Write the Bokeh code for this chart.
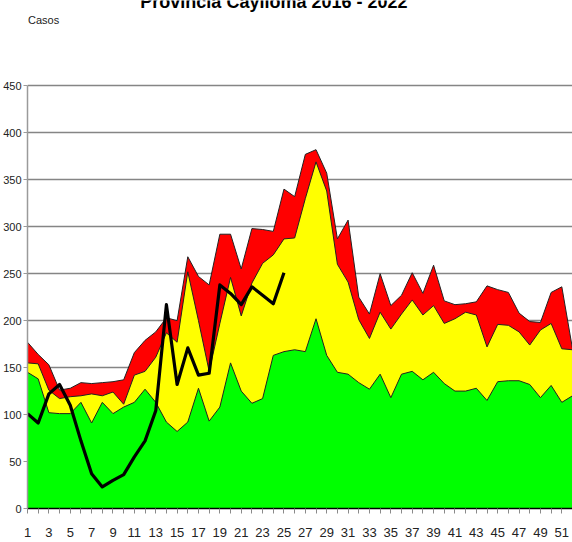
from bokeh.plotting import figure
from bokeh.models import FixedTicker, Label, Range1d
from bokeh.embed import file_html
from bokeh.resources import INLINE

# ---- data ----
weeks = list(range(1, 53))
red_max = [177, 164, 153, 126, 128, 134, 133, 134, 135, 137,
           166, 179, 188, 203, 200, 268, 247, 238, 292, 292,
           255, 298, 297, 295, 340, 332, 377, 382, 357, 287,
           307, 225, 207, 250, 216, 227, 251, 229, 259, 221,
           217, 218, 220, 237, 233, 230, 208, 199, 198, 230,
           236, 170]
yellow_mid = [155, 154, 126, 117, 119, 120, 122, 120, 124, 111,
              142, 146, 161, 187, 177, 252, 200, 146, 197, 246,
              205, 240, 261, 270, 287, 288, 330, 369, 338, 260,
              241, 201, 181, 209, 191, 207, 222, 206, 216, 197,
              202, 209, 206, 172, 196, 195, 188, 174, 190, 197,
              170, 169]
green_low = [145, 138, 102, 101, 101, 113, 91, 113, 101, 108,
             113, 127, 113, 92, 82, 92, 128, 93, 108, 155,
             125, 112, 117, 163, 167, 169, 167, 202, 163, 145,
             143, 134, 127, 143, 118, 143, 146, 137, 145, 133,
             125, 125, 128, 115, 135, 136, 136, 132, 118, 131,
             113, 120]
current_weeks = list(range(1, 26))
current_cases = [101, 91, 122, 132, 110, 72, 37, 23, 30, 36,
                 55, 72, 104, 217, 132, 171, 142, 144, 238, 229,
                 217, 236, 227, 218, 251]
y_ticks = [0, 50, 100, 150, 200, 250, 300, 350, 400, 450]
x_label_text = {w: (str(w) if w % 2 == 1 else "") for w in weeks}
title_text = "Provincia Caylloma 2016 - 2022"
y_title = "Casos"

FONT = "Liberation Sans"

# the frame reaches the top of the picture so that the (cut) title and the
# "Casos" caption can be drawn inside it; the y axis itself stops at 450
p = figure(width=572, height=542, output_backend="svg", toolbar_location=None,
           x_range=Range1d(1, 52), y_range=Range1d(0, 540.8),
           min_border_left=27, min_border_right=0,
           min_border_top=0, min_border_bottom=34,
           background_fill_color="white", border_fill_color="white")
p.outline_line_color = None

# areas (overlapping, drawn from largest to smallest)
for vals, col in ((red_max, "#FF0000"), (yellow_mid, "#FFFF00"), (green_low, "#00FF00")):
    p.varea(x=weeks, y1=[0] * len(weeks), y2=vals, fill_color=col)
    p.line(x=weeks, y=vals, line_color="#222222", line_width=1)

p.line(x=current_weeks, y=current_cases, line_color="black", line_width=3.2,
       line_join="round")

# grid
p.xgrid.visible = False
p.ygrid.ticker = FixedTicker(ticks=y_ticks)
p.ygrid.grid_line_color = "#858585"
p.ygrid.grid_line_width = 1.4

# y axis
p.yaxis.ticker = FixedTicker(ticks=y_ticks)
p.yaxis.bounds = (0, 450)
p.yaxis.axis_line_color = "#9a9a9a"
p.yaxis.axis_line_width = 1.5
p.yaxis.major_tick_line_color = "#9a9a9a"
p.yaxis.major_tick_out = 4
p.yaxis.major_tick_in = 0
p.yaxis.minor_tick_line_color = None
p.yaxis.major_label_standoff = 2
p.yaxis.major_label_text_font = FONT
p.yaxis.major_label_text_font_size = "11px"
p.yaxis.major_label_text_color = "#222222"

# x axis
p.xaxis.ticker = FixedTicker(ticks=weeks)
p.xaxis.major_label_overrides = x_label_text
p.xaxis.axis_line_color = "black"
p.xaxis.axis_line_width = 1.5
p.xaxis.major_tick_line_color = "#8a8a8a"
p.xaxis.major_tick_out = 5
p.xaxis.major_tick_in = 0
p.xaxis.minor_tick_line_color = None
p.xaxis.major_label_standoff = 14
p.xaxis.major_label_text_font = FONT
p.xaxis.major_label_text_font_size = "13px"
p.xaxis.major_label_text_color = "#222222"

# title (cut off at the top as in the reference) and y-axis caption
p.add_layout(Label(x=24.06, y=539.2, x_units="data", y_units="data",
                   text=title_text, text_align="center", text_baseline="alphabetic",
                   text_font=FONT, text_font_style="bold", text_font_size="18px",
                   text_color="black"))
p.add_layout(Label(x=1.05, y=520.4, x_units="data", y_units="data",
                   text=y_title, text_align="left", text_baseline="alphabetic",
                   text_font=FONT, text_font_size="11px", text_color="#222222"))

open("out.html", "w").write(file_html(p, INLINE))
